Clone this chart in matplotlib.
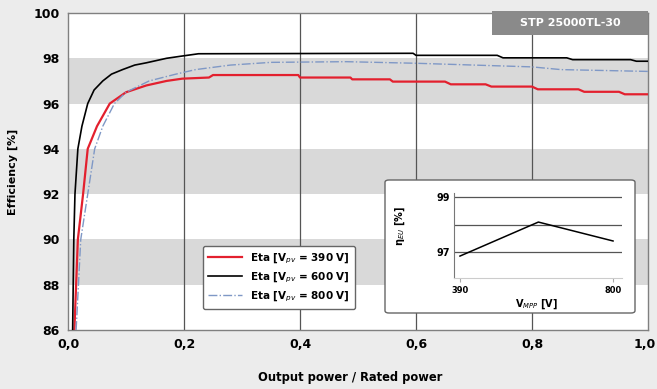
import numpy as np
import matplotlib
matplotlib.use("Agg")
import matplotlib.pyplot as plt
import matplotlib.transforms as mtransforms
from matplotlib.patches import FancyBboxPatch, Rectangle

# Kurven aus dem Datenblatt
x_390 = [0.011, 0.017, 0.026, 0.034, 0.05, 0.072, 0.1, 0.135, 0.17, 0.197, 0.243, 0.25,
         0.397, 0.40, 0.487, 0.49, 0.555, 0.56, 0.65, 0.66, 0.72, 0.73, 0.80, 0.81,
         0.88, 0.89, 0.95, 0.96, 1.0]
eta_390 = [86.0, 90.0, 92.0, 94.0, 95.0, 96.0, 96.5, 96.8, 97.0, 97.1, 97.15, 97.26,
           97.26, 97.15, 97.15, 97.07, 97.07, 96.97, 96.97, 96.85, 96.85, 96.75, 96.75,
           96.63, 96.63, 96.52, 96.52, 96.41, 96.41]

x_600 = [0.008, 0.010, 0.012, 0.017, 0.024, 0.034, 0.045, 0.06, 0.075, 0.094, 0.115,
         0.135, 0.17, 0.197, 0.225, 0.595, 0.60, 0.74, 0.75, 0.86, 0.87, 0.97, 0.98, 1.0]
eta_600 = [86.0, 90.0, 92.0, 94.0, 95.0, 96.0, 96.6, 97.0, 97.3, 97.5, 97.7,
           97.8, 98.0, 98.1, 98.2, 98.22, 98.13, 98.13, 98.02, 98.02, 97.94, 97.94,
           97.87, 97.87]

x_800 = [0.014, 0.022, 0.034, 0.046, 0.06, 0.08, 0.1, 0.14, 0.186, 0.22, 0.28, 0.35,
         0.48, 0.6, 0.7, 0.8, 0.85, 1.0]
eta_800 = [86.0, 90.0, 92.0, 94.0, 95.0, 96.0, 96.5, 97.0, 97.3, 97.5, 97.7, 97.82,
           97.85, 97.78, 97.7, 97.62, 97.5, 97.42]

# Europaeischer Wirkungsgrad ueber MPP-Spannung
v_mpp = [390, 600, 800]
eta_eu = [96.85, 98.09, 97.4]

x_ticks = [0.0, 0.2, 0.4, 0.6, 0.8, 1.0]
x_labels = ["0,0", "0,2", "0,4", "0,6", "0,8", "1,0"]
y_ticks = [86, 88, 90, 92, 94, 96, 98, 100]

W, H = 657, 389
fig = plt.figure(figsize=(W / 100, H / 100), dpi=100)
fig.patch.set_facecolor("#ececec")

ax = fig.add_axes([68 / W, 1 - 330 / H, 580 / W, 317 / H])
ax.set_facecolor("white")
for lo in (88, 92, 96):
    ax.axhspan(lo, lo + 2, color="#d9d9d9", lw=0, zorder=0)
for xv in (0.2, 0.4, 0.6, 0.8):
    ax.axvline(xv, color="#555555", lw=0.9, zorder=1)

ax.plot(x_390, eta_390, color="#e3202e", lw=1.6, label="Eta [V$_{pv}$ = 390 V]", zorder=3)
ax.plot(x_600, eta_600, color="black", lw=1.2, label="Eta [V$_{pv}$ = 600 V]", zorder=3)
ax.plot(x_800, eta_800, color="#7f98c6", lw=1.0, ls="-.", label="Eta [V$_{pv}$ = 800 V]", zorder=3)

ax.set_xlim(0, 1.0)
ax.set_ylim(86, 100)
ax.set_xticks(x_ticks)
ax.set_xticklabels(x_labels)
ax.set_yticks(y_ticks)
ax.tick_params(length=0, labelsize=9, pad=6)
for lab in ax.get_xticklabels() + ax.get_yticklabels():
    lab.set_fontweight("bold")
# letzte Beschriftung bleibt im Bild
last = ax.get_xticklabels()[-1]
last.set_horizontalalignment("right")
last.set_transform(last.get_transform() + mtransforms.ScaledTranslation(8 / 100, 0, fig.dpi_scale_trans))
for s in ax.spines.values():
    s.set_color("#808080")
    s.set_linewidth(1.0)

fig.text(350 / W, 1 - 378 / H, "Output power / Rated power", ha="center", va="center",
         fontsize=8.3, fontweight="bold")
fig.text(13 / W, 1 - 172 / H, "Efficiency [%]", ha="center", va="center", rotation=90,
         fontsize=8, fontweight="bold")

# Typbezeichnung oben rechts
fig.add_artist(Rectangle((492 / W, 1 - 35 / H), 156 / W, 24 / H, transform=fig.transFigure,
                         facecolor="#8a8a8a", edgecolor="none", zorder=5))
fig.text(570 / W, 1 - 23 / H, "STP 25000TL-30", ha="center", va="center", color="white",
         fontsize=8, fontweight="bold", zorder=6)

leg = ax.legend(loc="upper left", bbox_to_anchor=(203 / W, 1 - 246 / H),
                bbox_transform=fig.transFigure, borderaxespad=0, fontsize=7.5,
                handlelength=3.2, frameon=True, fancybox=True, framealpha=1,
                edgecolor="#666666", labelspacing=0.45, borderpad=0.5)
for t in leg.get_texts():
    t.set_fontweight("bold")

# Einsatz mit Euro-eta
fig.add_artist(FancyBboxPatch((385 / W, 1 - 313 / H), 250 / W, 133 / H,
                              boxstyle="round,pad=0,rounding_size=0.006",
                              transform=fig.transFigure, facecolor="white",
                              edgecolor="#666666", lw=1.0, zorder=2))
ins = fig.add_axes([454 / W, 1 - 278 / H, 168 / W, 85 / H], zorder=3)
ins.set_facecolor("none")
ins.plot(v_mpp, eta_eu, color="black", lw=1.1)
ins.set_xlim(374, 824)
ins.set_ylim(96.05, 99.15)
ins.set_yticks([97, 98, 99])
ins.set_yticklabels(["97", "", "99"])
ins.set_xticks([390, 800])
ins.grid(axis="y", color="#555555", lw=0.9)
ins.tick_params(axis="y", length=0, labelsize=7, pad=3)
ins.tick_params(axis="x", length=3, color="#aaaaaa", labelsize=6, pad=3)
for lab in ins.get_xticklabels() + ins.get_yticklabels():
    lab.set_fontweight("bold")
ins.spines["top"].set_visible(False)
ins.spines["right"].set_visible(False)
ins.spines["left"].set_color("#777777")
ins.spines["bottom"].set_color("#cccccc")
fig.text(400 / W, 1 - 226 / H, "η$_{EU}$ [%]", rotation=90, ha="center", va="center",
         fontsize=7, fontweight="bold", zorder=4)
fig.text(537 / W, 1 - 304 / H, "V$_{MPP}$ [V]", ha="center", va="center",
         fontsize=7, fontweight="bold", zorder=4)

fig.savefig("out.png", dpi=100, facecolor=fig.get_facecolor())
